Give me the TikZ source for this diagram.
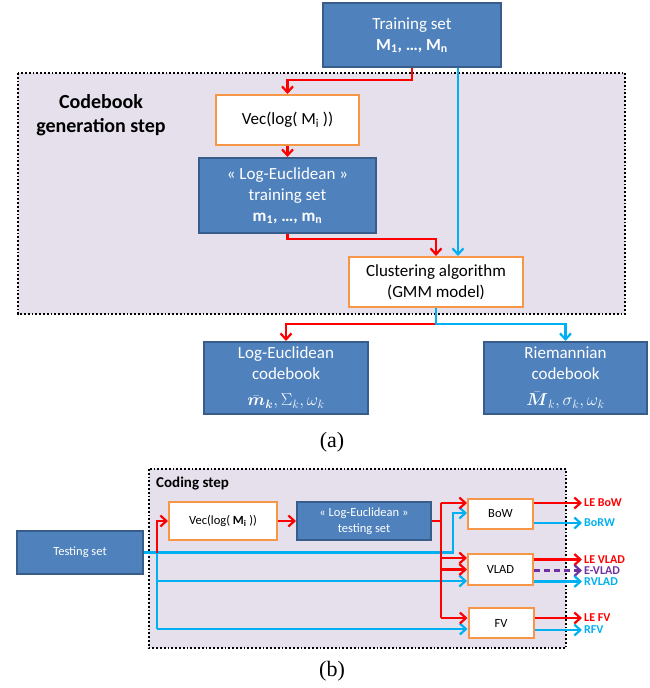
\documentclass[tikz,border=0pt]{standalone}
\usepackage{amsmath,amssymb}
\usepackage{fontspec}
\setmainfont{Carlito}
\newfontfamily\timesf{Liberation Serif}
\usetikzlibrary{arrows.meta,calc}
\definecolor{boxblue}{HTML}{4F81BD}
\definecolor{boxborder}{HTML}{385D8A}
\definecolor{orangeb}{HTML}{F79646}
\definecolor{lav}{HTML}{E5E0EC}
\definecolor{lred}{HTML}{FF0000}
\definecolor{lcyan}{HTML}{00B0F0}
\definecolor{lpurple}{HTML}{7030A0}
\begin{document}
\begin{tikzpicture}[x=1pt,y=-1pt,
  bluebox/.style={draw=boxborder, fill=boxblue, line width=2pt, text=white, align=center, inner sep=0pt},
  orbox/.style={draw=orangeb, fill=white, line width=2pt, align=center, inner sep=0pt},
  frame/.style={draw=black, dotted, line width=1.8pt, fill=lav},
  big/.style={font=\fontsize{17}{21}\selectfont},
  small/.style={font=\fontsize{12.5}{16.5}\selectfont},
  wire/.style={line width=2.2pt},
  conn/.style={line width=2.2pt, -{Straight Barb[length=6pt,width=11pt]}},
  outlbl/.style={anchor=west, inner sep=0pt, font=\fontsize{12}{13}\selectfont\bfseries},
  caplbl/.style={font=\fontsize{22}{24}\timesf}]
\useasboundingbox (0,0) rectangle (650,688);

% ---------- (a) ----------
\draw[frame] (18,73) rectangle (625,314);
\node[font=\fontsize{20}{24}\selectfont\bfseries, align=center] (cbl) at (101,115) {Codebook\\generation step};

\node[bluebox, big, minimum width=178pt, minimum height=64pt] (train) at (412,35)
  {Training set\\\textbf{M\textsubscript{1}, …, M\textsubscript{n}}};
\node[orbox, big, minimum width=143pt, minimum height=50pt] (vec) at (287.5,120)
  {Vec(log( M\textsubscript{i} ))};
\node[bluebox, big, minimum width=177pt, minimum height=75pt] (letrain) at (287.5,195.5)
  {« Log-Euclidean »\\training set\\\textbf{m\textsubscript{1}, …, m\textsubscript{n}}};
\node[orbox, big, minimum width=174pt, minimum height=50pt] (clust) at (436,282)
  {Clustering algorithm\\(GMM model)};
\node[bluebox, big, minimum width=164pt, minimum height=72pt] (lecb) at (286,378)
  {Log-Euclidean\\codebook\\[5pt]$\bar{\boldsymbol{m}}_{\boldsymbol{k}},\Sigma_k,\omega_k$};
\node[bluebox, big, minimum width=163pt, minimum height=72pt] (rcb) at (565.5,378)
  {Riemannian\\codebook\\[5pt]$\bar{\boldsymbol{M}}_k,\sigma_k,\omega_k$};
\node[caplbl] (capa) at (332,442) {(a)};

\coordinate (bx) at (458,0);
\draw[conn, lred] (train.south) -- (train.south |- 0,80) -| (vec.north);
\draw[conn, lcyan] (train.south -| bx) -- (clust.north -| bx);
\draw[conn, lred] (vec.south) -- (letrain.north);
\draw[conn, lred] (letrain.south) -- (letrain.south |- 0,239) -| (clust.north);
\draw[conn, lred] (clust.south) -- (clust.south |- 0,324) -| (lecb.north);
\draw[conn, lcyan] (clust.south) -- (clust.south |- 0,324) -| (rcb.north);

% ---------- (b) ----------
\draw[frame] (149,469) rectangle (566,648);
\node[anchor=west, inner sep=0pt, font=\fontsize{15}{18}\selectfont\bfseries] (codl) at (156,484) {Coding step};

\node[bluebox, small, minimum width=126pt, minimum height=43pt] (test) at (80,552.5) {Testing set};
\node[orbox, small, minimum width=108pt, minimum height=38pt] (vec2) at (223,521) {Vec(log( \textbf{M\textsubscript{i}} ))};
\node[bluebox, small, minimum width=134pt, minimum height=38pt] (letest) at (364,521) {« Log-Euclidean »\\testing set};
\node[orbox, small, minimum width=65pt, minimum height=30pt] (bow) at (500.5,514) {BoW};
\node[orbox, small, minimum width=65pt, minimum height=31pt] (vlad) at (500.5,569.5) {VLAD};
\node[orbox, small, minimum width=65pt, minimum height=30pt] (fv) at (501,623) {FV};

\node[outlbl, text=lred] (lebow) at (584,503) {LE BoW};
\node[outlbl, text=lcyan] (borw) at (584,523) {BoRW};
\node[outlbl, text=lred] (levlad) at (584,559.5) {LE VLAD};
\node[outlbl, text=lpurple] (evlad) at (584,570.5) {E-VLAD};
\node[outlbl, text=lcyan] (rvlad) at (584,581.5) {RVLAD};
\node[outlbl, text=lred] (lefv) at (584,618) {LE FV};
\node[outlbl, text=lcyan] (rfv) at (584,630) {RFV};
\node[caplbl] (capb) at (332,671) {(b)};

\coordinate (lx) at (157,0);
\coordinate (bx2) at (453,0);
\coordinate (rx2) at (441,0);
\coordinate (bowR) at ($(bow.west)+(0,-11)$);
\coordinate (bowB) at ($(bow.west)+(0,-1)$);
\coordinate (vladR1) at ($(vlad.west)+(0,-11.5)$);
\coordinate (vladR2) at (vlad.west);
\coordinate (vladB) at ($(vlad.west)+(0,11.5)$);
\coordinate (fvR) at ($(fv.west)+(0,-5)$);
\coordinate (fvB) at ($(fv.west)+(0,6)$);

% blue wires
\draw[conn, lcyan] (test.east) -| (bx2 |- bowB) -- (bowB);
\draw[wire, lcyan] (test.east -| lx) -- (lx |- fvB);
\draw[conn, lcyan] (lx |- vladB) -- (vladB);
\draw[conn, lcyan] (lx |- fvB) -- (fvB);
% red wires
\draw[conn, lred] (test.east -| lx) |- (vec2.west);
\draw[conn, lred] (vec2.east) -- (letest.west);
\draw[wire, lred] (letest.east) -- (letest.east -| rx2);
\draw[wire, lred] (rx2 |- bowR) -- (rx2 |- fvR);
\draw[conn, lred] (rx2 |- bowR) -- (bowR);
\draw[conn, lred] (rx2 |- vladR1) -- (vladR1);
\draw[conn, lred] (rx2 |- vladR2) -- (vladR2);
\draw[conn, lred] (rx2 |- fvR) -- (fvR);
% outputs
\draw[conn, lred] (bow.east |- lebow.west) -- ($(lebow.west)+(-2,0)$);
\draw[conn, lcyan] (bow.east |- borw.west) -- ($(borw.west)+(-2,0)$);
\draw[conn, lred] (vlad.east |- levlad.west) -- ($(levlad.west)+(-2,0)$);
\draw[conn, lpurple, dash pattern=on 6pt off 4pt] (vlad.east |- evlad.west) -- ($(evlad.west)+(-2,0)$);
\draw[conn, lcyan] (vlad.east |- rvlad.west) -- ($(rvlad.west)+(-2,0)$);
\draw[conn, lred] (fv.east |- lefv.west) -- ($(lefv.west)+(-2,0)$);
\draw[conn, lcyan] (fv.east |- rfv.west) -- ($(rfv.west)+(-2,0)$);
\end{tikzpicture}
\end{document}
